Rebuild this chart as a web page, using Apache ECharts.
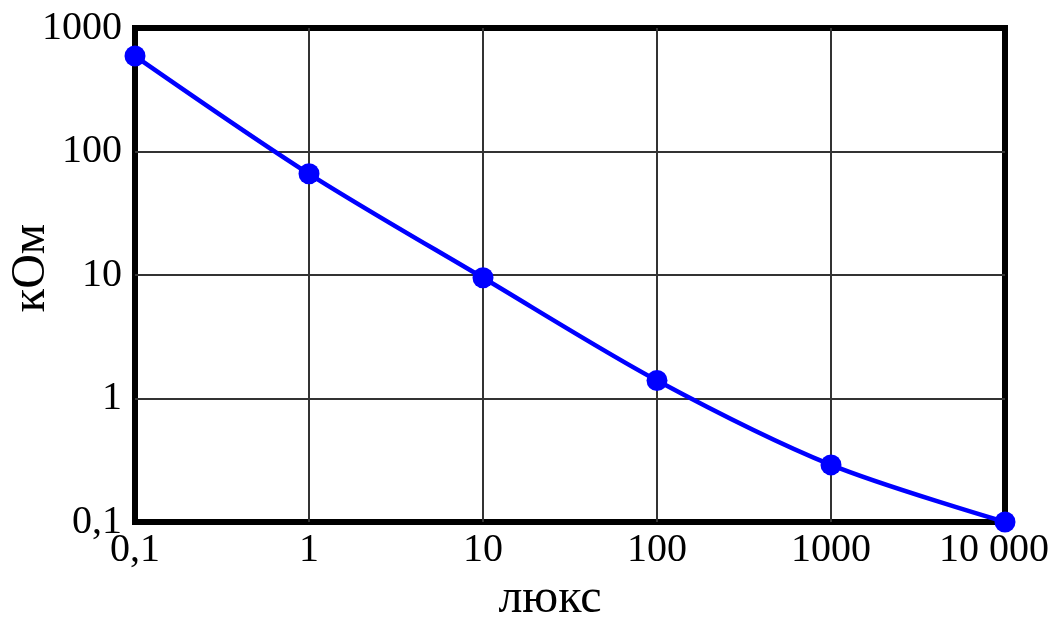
<!DOCTYPE html>
<html>
<head>
<meta charset="utf-8">
<script src="https://cdn.jsdelivr.net/npm/echarts@6/dist/echarts.min.js"></script>
<style>
html,body{margin:0;padding:0;background:#fff;}
#chart{width:1056px;height:617px;}
</style>
</head>
<body>
<div id="chart"></div>
<script>
// Data
const luxValues = [0.1, 1, 10, 100, 1000, 10000];
const kOhmValues = [593, 66, 9.5, 1.4, 0.29, 0.1];
const xTickLabels = ['0,1', '1', '10', '100', '1000', '10 000'];
const yTickLabels = ['0,1', '1', '10', '100', '1000'];
const xAxisName = 'люкс';
const yAxisName = 'кОм';

const font = 'Liberation Serif';
const chart = echarts.init(document.getElementById('chart'));
chart.setOption({
  animation: false,
  backgroundColor: '#fff',
  grid: {
    left: 135, right: 51, top: 28, bottom: 95,
    outerBoundsMode: 'none', containLabel: false,
    show: true, borderWidth: 6, borderColor: '#000', backgroundColor: 'transparent'
  },
  xAxis: {
    type: 'log', logBase: 10, min: 0.1, max: 10000,
    name: xAxisName, nameLocation: 'middle', nameGap: 53, nameMoveOverlap: false,
    nameTextStyle: { fontFamily: font, fontSize: 48, color: '#000', padding: [0, 40, 0, 0] },
    axisLine: { show: false },
    axisTick: { show: false },
    axisLabel: {
      fontFamily: font, fontSize: 40, color: '#000', margin: 8,
      formatter: (v, i) => {
        const t = xTickLabels[i];
        if (t === undefined) return '';
        return i === xTickLabels.length - 1 ? '{last|' + t + '}' : t;
      },
      rich: { last: { fontFamily: font, fontSize: 40, color: '#000', padding: [0, 22, 0, 0] } }
    },
    splitLine: { show: true, showMinLine: false, showMaxLine: false, lineStyle: { color: '#333', width: 2 } },
    minorTick: { show: false }
  },
  yAxis: {
    type: 'log', logBase: 10, min: 0.1, max: 1000,
    name: yAxisName, nameLocation: 'middle', nameGap: 80, nameMoveOverlap: false,
    nameTextStyle: { fontFamily: font, fontSize: 48, color: '#000', padding: [0, 0, 0, 14] },
    axisLine: { show: false },
    axisTick: { show: false },
    axisLabel: {
      fontFamily: font, fontSize: 40, color: '#000', margin: 13,
      formatter: (v, i) => yTickLabels[i] !== undefined ? yTickLabels[i] : ''
    },
    splitLine: { show: true, showMinLine: false, showMaxLine: false, lineStyle: { color: '#333', width: 2 } }
  },
  series: [{
    type: 'line',
    data: luxValues.map((x, i) => [x, kOhmValues[i]]),
    smooth: 0.3,
    clip: false,
    symbol: 'circle',
    symbolSize: 21,
    lineStyle: { color: '#0000ff', width: 4.5 },
    itemStyle: { color: '#0000ff' },
    z: 5
  }]
});
</script>
</body>
</html>
